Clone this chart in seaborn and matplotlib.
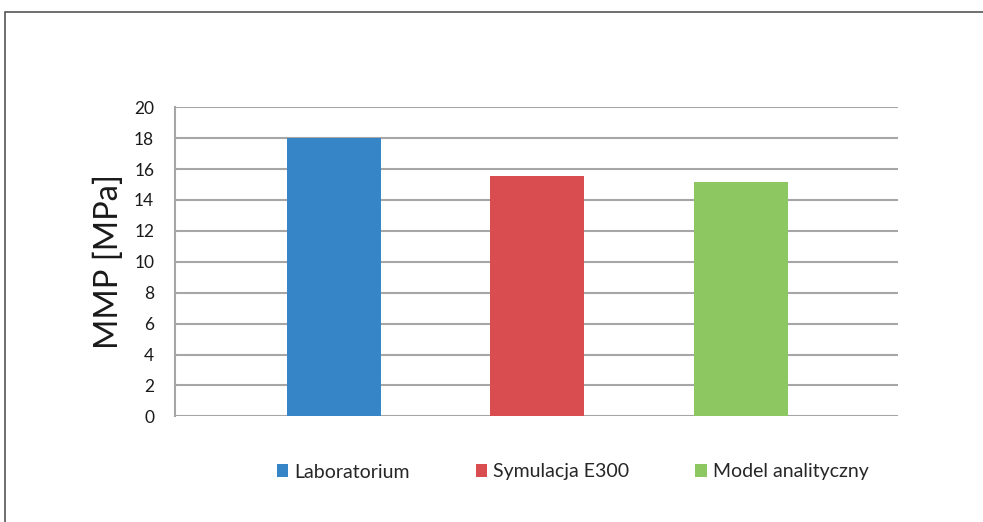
import matplotlib
matplotlib.use("Agg")
import matplotlib.pyplot as plt
import seaborn as sns
import pandas as pd
from matplotlib.patches import Rectangle, Patch

# Minimum miscibility pressure from three methods
methods = ["Laboratorium", "Symulacja E300", "Model analityczny"]
mmp_values = [18.0, 15.55, 15.15]
colors = ["#3685c6", "#d94c50", "#8dc762"]
y_ticks = [0, 2, 4, 6, 8, 10, 12, 14, 16, 18, 20]

df = pd.DataFrame({"method": methods, "mmp": mmp_values})

sns.set_style("white")
plt.rcParams["font.family"] = ["Lato", "DejaVu Sans"]

fig = plt.figure(figsize=(9.83, 5.22), dpi=100)
ax = fig.add_axes([175 / 983, 1 - 416.3 / 522, (898 - 175) / 983, (416.3 - 107.3) / 522])

sns.barplot(data=df, x="method", y="mmp", hue="method", palette=colors,
            width=0.462, saturation=1, legend=False, linewidth=0, ax=ax)

ax.set_ylim(0, 20)
ax.set_yticks(y_ticks)
ax.set_xlim(-0.781, 2.772)
ax.set_xticks([])
ax.set_xlabel("")
ax.set_ylabel("MMP [MPa]", fontsize=23.5, color="#1a1a1a", labelpad=7)

ax.grid(axis="y", color="#a6a6a6", linewidth=1.5)
ax.set_axisbelow(True)
for side in ["top", "right", "bottom"]:
    ax.spines[side].set_visible(False)
ax.spines["left"].set_color("#a6a6a6")
ax.spines["left"].set_linewidth(1.5)
ax.tick_params(axis="y", direction="out", length=6, width=1.5, color="#a6a6a6",
               labelsize=12.5, labelcolor="#1a1a1a", pad=9)

handles = [Patch(facecolor=c, edgecolor="none") for c in colors]
fig.legend(handles, methods, loc="center left", bbox_to_anchor=(259 / 983, 1 - 472 / 522),
           ncol=3, frameon=False, fontsize=14, handlelength=0.6, handleheight=0.6,
           handletextpad=0.3, columnspacing=3.4)

# outer frame around the chart
fig.add_artist(Rectangle((4.5 / 983, -0.1), 1.2, 1.1 - 11.5 / 522,
                         transform=fig.transFigure, fill=False,
                         edgecolor="#555555", linewidth=1.2))

fig.savefig("out.png", dpi=100, facecolor="white")
